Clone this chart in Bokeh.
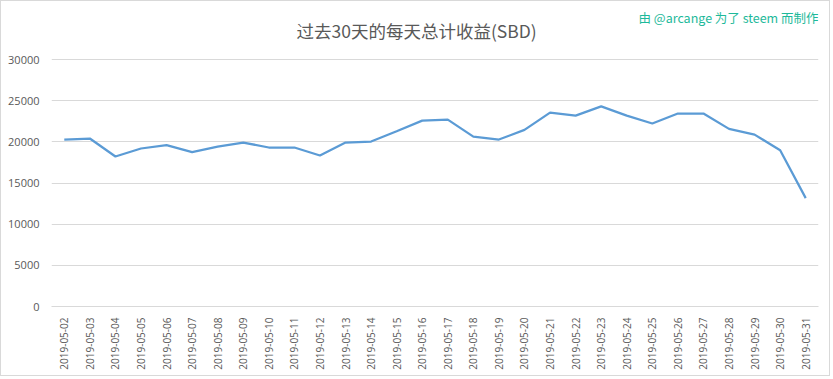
import math
from bokeh.plotting import figure
from bokeh.models import FactorRange, Range1d, Label, FixedTicker
from bokeh.embed import file_html
from bokeh.resources import INLINE

dates = ["2019-05-%02d" % d for d in range(2, 32)]
values = [20280, 20400, 18220, 19190, 19600, 18750, 19430, 19915, 19310, 19310,
          18340, 19915, 20040, 21280, 22580, 22700, 20640, 20280, 21450, 23550,
          23180, 24300, 23180, 22230, 23440, 23440, 21570, 20880, 18970, 13160]
y_ticks = [0, 5000, 10000, 15000, 20000, 25000, 30000]
title_text = "过去30天的每天总计收益(SBD)"
credit_text = "由 @arcange 为了 steem 而制作"

# frame spans the top of the canvas so the texts can sit inside it
p = figure(width=830, height=376, output_backend="svg", toolbar_location=None,
           x_range=FactorRange(*dates, range_padding=0), y_range=Range1d(0, 37045),
           min_border_left=50, min_border_right=13, min_border_top=0, min_border_bottom=71)
p.styles = {"border": "1px solid #D9D9D9"}
p.outline_line_color = None
p.background_fill_color = "white"
p.border_fill_color = "white"

p.line(dates, values, line_color="#5B9BD5", line_width=2.25)

p.yaxis.ticker = FixedTicker(ticks=y_ticks)
p.yaxis.axis_line_color = None
p.yaxis.major_tick_line_color = None
p.yaxis.minor_tick_line_color = None
p.yaxis.major_label_text_color = "#595959"
p.yaxis.major_label_text_font = "Open Sans"
p.yaxis.major_label_text_font_size = "11px"
p.yaxis.major_label_standoff = 6

p.xaxis.axis_line_color = "#D9D9D9"
p.xaxis.major_tick_line_color = None
p.xaxis.minor_tick_line_color = None
p.xaxis.major_label_orientation = math.pi / 2
p.xaxis.major_label_text_color = "#595959"
p.xaxis.major_label_text_font = "Open Sans"
p.xaxis.major_label_text_font_size = "10px"
p.xaxis.major_label_standoff = 5

p.xgrid.grid_line_color = None
p.ygrid.grid_line_color = "#D9D9D9"

p.add_layout(Label(x=14.28, y=33522, text=title_text,
                   text_align="center", text_baseline="middle", text_color="#595959",
                   text_font="Noto Sans CJK SC", text_font_size="17.5px"))
p.add_layout(Label(x=30, y=35101, text=credit_text,
                   text_align="right", text_baseline="middle", text_color="#1DB99A",
                   text_font="Noto Sans CJK SC", text_font_size="12.5px"))

open("out.html", "w").write(file_html(p, INLINE))
